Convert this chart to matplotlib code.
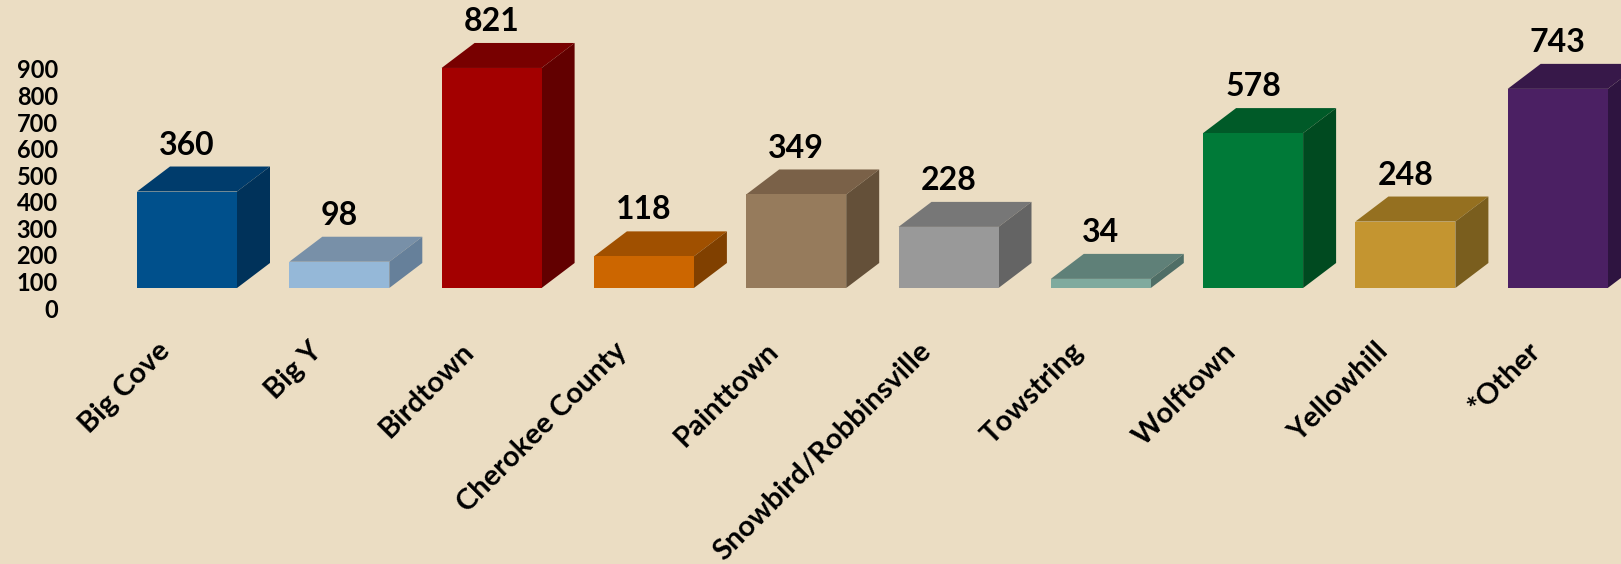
import matplotlib
matplotlib.use("Agg")
import matplotlib.pyplot as plt
from matplotlib.patches import Polygon

categories = ["Big Cove", "Big Y", "Birdtown", "Cherokee County", "Painttown",
              "Snowbird/Robbinsville", "Towstring", "Wolftown", "Yellowhill", "*Other"]
values = [360, 98, 821, 118, 349, 228, 34, 578, 248, 743]
front_colors = ["#00508C", "#95B8D8", "#A30000", "#CC6600", "#967B5C",
                "#999999", "#7FAA9E", "#007A38", "#C49530", "#4B2063"]
top_colors = ["#003C6C", "#7890A8", "#780000", "#A05000", "#7A6148",
              "#777777", "#5F8078", "#005A28", "#957020", "#371849"]
side_colors = ["#00325A", "#66809A", "#620000", "#804000", "#645039",
               "#646464", "#4F6E66", "#004A20", "#7A5E1E", "#2E1440"]
y_ticks = [0, 100, 200, 300, 400, 500, 600, 700, 800, 900]

W, H = 1621, 564
BG = "#EBDDC3"
fig = plt.figure(figsize=(W / 100, H / 100), dpi=100, facecolor=BG)

# main axes for bars (pixel mapping: center_i = 187 + 152.3*i, base at 288 px from top)
left_px = 62
ax = fig.add_axes([left_px / W, 0, 1 - left_px / W, 1])
ax.set_facecolor("none")
step = 152.3
sc = 0.268  # px per unit
ax.set_xlim((left_px - 187) / step, (W - 187) / step)
ax.set_ylim(-(H - 288) / sc, 288 / sc)
for s in ax.spines.values():
    s.set_visible(False)
ax.set_xticks([])
ax.set_yticks([])

width = 100 / step
dx = 33 / step
dy = 25 / sc

xs = list(range(len(values)))
bars = ax.bar(xs, values, width=width, color=front_colors, edgecolor="none", zorder=3)
for i, (b, v) in enumerate(zip(bars, values)):
    x0 = b.get_x()
    x1 = x0 + b.get_width()
    top = Polygon([(x0, v), (x0 + dx, v + dy), (x1 + dx, v + dy), (x1, v)],
                  closed=True, facecolor=top_colors[i], edgecolor="none", zorder=2)
    side = Polygon([(x1, 0), (x1 + dx, dy), (x1 + dx, v + dy), (x1, v)],
                   closed=True, facecolor=side_colors[i], edgecolor="none", zorder=2)
    ax.add_patch(top)
    ax.add_patch(side)
    ax.annotate(str(v), (i, v + dy), xytext=(0, 8.6), textcoords="offset points",
                ha="center", va="baseline", fontsize=23, fontweight="bold",
                family="Lato", color="black", zorder=5)
    ax.annotate(categories[i], (i, 0), xytext=(-22, -36), textcoords="offset points",
                ha="right", va="top", rotation=45, rotation_mode="anchor",
                fontsize=21, fontweight="bold", family="Lato", color="black",
                annotation_clip=False)

# tick axis (Excel 3D-style offset value axis)
ax2 = fig.add_axes([left_px / W, 0, 0.001, 1])
ax2.set_facecolor("none")
tsc = 0.2656
ax2.set_ylim(-(H - 308) / tsc, 308 / tsc)
for s in ax2.spines.values():
    s.set_visible(False)
ax2.set_xticks([])
ax2.set_yticks(y_ticks)
ax2.set_yticklabels([str(t) for t in y_ticks], fontsize=17, fontweight="bold", family="Lato")
ax2.tick_params(axis="y", length=0, pad=3)

fig.savefig("out.png", dpi=100, facecolor=BG)
